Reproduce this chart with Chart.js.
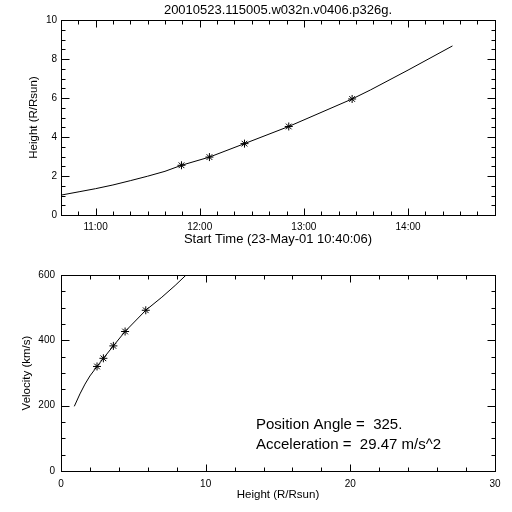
<!DOCTYPE html>
<html>
<head>
<meta charset="utf-8">
<script src="https://cdn.jsdelivr.net/npm/chart.js@4"></script>
<style>
  body { margin: 0; background: #fff; }
  #wrap { position: relative; width: 512px; height: 512px; }
  canvas { position: absolute; left: 0; }
  #topChart { top: 0; }
  #bottomChart { top: 250px; }
</style>
</head>
<body>
<div id="wrap">
  <canvas id="topChart" width="512" height="250"></canvas>
  <canvas id="bottomChart" width="512" height="262"></canvas>
</div>
<script>
const chartTitle = '20010523.115005.w032n.v0406.p326g.';

// height vs time, time in minutes after 00:00
const fitTimes   = [640.1, 651, 660, 670, 680, 690, 700, 709.5, 725.6, 745.8, 771.3, 807.8, 818.3, 840, 865.6];
const fitHeights = [1.02, 1.2, 1.35, 1.54, 1.76, 1.99, 2.24, 2.55, 2.97, 3.66, 4.54, 5.95, 6.41, 7.43, 8.67];
const obsTimes   = [709.5, 725.6, 745.8, 771.3, 807.8];
const obsHeights = [2.55, 2.97, 3.66, 4.54, 5.95];

const timeTickValues = [660, 720, 780, 840];
const timeTickLabels = ['11:00', '12:00', '13:00', '14:00'];
const heightTickValues = [0, 2, 4, 6, 8, 10];

// velocity vs height
const curveHeights    = [0.92, 1.31, 1.66, 2.0, 2.49, 2.93, 3.62, 4.43, 5.86, 6.97, 7.89, 8.65];
const curveVelocities = [198, 236, 266, 291, 320, 345, 383, 427, 492, 532, 568, 600];
const obsVelHeights   = [2.49, 2.93, 3.62, 4.43, 5.86];
const obsVelocities   = [320, 345, 383, 427, 492];

const rTickValues = [0, 10, 20, 30];
const vTickValues = [0, 200, 400, 600];

const noteLines = ['Position Angle =  325.', 'Acceleration =  29.47 m/s^2'];

const FONT = "'Liberation Sans', Arial, sans-serif";

function xy(xs, ys) {
  return xs.map((x, i) => ({ x: x, y: ys[i] }));
}

// IDL-like frame with inward ticks on all four sides
const idlFrame = {
  id: 'idlFrame',
  afterDatasetsDraw(chart, args, opts) {
    const { ctx, chartArea: a } = chart;
    const xs = chart.scales.x, ys = chart.scales.y;
    const L = Math.round(a.left) + 0.5, R = Math.round(a.right) + 0.5;
    const T = Math.round(a.top) + 0.5, B = Math.round(a.bottom) + 0.5;
    ctx.save();
    ctx.strokeStyle = '#000';
    ctx.lineWidth = 1;
    ctx.strokeRect(L, T, R - L, B - T);
    ctx.beginPath();
    const xMajor = xs.ticks.map(t => t.value);
    const yMajor = ys.ticks.map(t => t.value);
    for (let v = Math.ceil(xs.min / opts.xMinor) * opts.xMinor; v <= xs.max; v += opts.xMinor) {
      const len = xMajor.some(m => Math.abs(m - v) < 1e-6) ? 7 : 4;
      const p = Math.round(xs.getPixelForValue(v)) + 0.5;
      ctx.moveTo(p, B); ctx.lineTo(p, B - len);
      ctx.moveTo(p, T); ctx.lineTo(p, T + len);
    }
    for (let v = Math.ceil(ys.min / opts.yMinor) * opts.yMinor; v <= ys.max + 1e-6; v += opts.yMinor) {
      const len = yMajor.some(m => Math.abs(m - v) < 1e-6) ? 8 : 4;
      const p = Math.round(ys.getPixelForValue(v)) + 0.5;
      ctx.moveTo(L, p); ctx.lineTo(L + len, p);
      ctx.moveTo(R, p); ctx.lineTo(R - len, p);
    }
    ctx.stroke();
    if (opts.notes) {
      ctx.fillStyle = '#000';
      ctx.font = '15px ' + FONT;
      ctx.textBaseline = 'middle';
      opts.notes.forEach((line, i) => {
        ctx.fillText(line, a.left + 195, a.top + 150 + i * 20);
      });
    }
    ctx.restore();
  }
};

function axis(opts) {
  return Object.assign({
    type: 'linear',
    grid: { display: false, drawTicks: false },
    border: { display: false }
  }, opts);
}

new Chart(document.getElementById('topChart'), {
  type: 'scatter',
  data: {
    datasets: [{
      data: xy(fitTimes, fitHeights),
      showLine: true,
      borderColor: '#000',
      borderWidth: 1,
      pointRadius: 0,
      tension: 0
    }, {
      data: xy(obsTimes, obsHeights),
      pointStyle: 'star',
      pointRadius: 4,
      borderColor: '#000',
      backgroundColor: '#000',
      borderWidth: 1
    }]
  },
  options: {
    responsive: false,
    animation: false,
    layout: { padding: { left: 0, right: 17, top: 0, bottom: 0 } },
    plugins: {
      legend: { display: false },
      tooltip: { enabled: false },
      title: {
        display: true,
        fullSize: false,
        text: chartTitle,
        color: '#000',
        font: { family: FONT, size: 13, weight: 'normal' },
        padding: { top: 3, bottom: 1.4 }
      },
      idlFrame: { xMinor: 10, yMinor: 0.5 }
    },
    scales: {
      x: axis({
        min: 640.1, max: 890.1,
        afterBuildTicks: s => { s.ticks = timeTickValues.map(v => ({ value: v })); },
        afterFit: s => { s.height = 35; },
        ticks: {
          color: '#000', padding: 6.5, maxRotation: 0,
          font: { family: FONT, size: 10 },
          callback: (v, i) => timeTickLabels[i]
        },
        title: {
          display: true, text: 'Start Time (23-May-01 10:40:06)', color: '#000',
          font: { family: FONT, size: 13 }, padding: { top: 0, bottom: 3 }
        }
      }),
      y: axis({
        min: 0, max: 10,
        afterBuildTicks: s => { s.ticks = heightTickValues.map(v => ({ value: v })); },
        afterFit: s => { s.width = 61; },
        ticks: { color: '#000', padding: 4, font: { family: FONT, size: 10 } },
        title: {
          display: true, text: 'Height (R/Rsun)', color: '#000',
          font: { family: FONT, size: 11.5 }, padding: { top: 27, bottom: 0 }
        }
      })
    }
  },
  plugins: [idlFrame]
});

new Chart(document.getElementById('bottomChart'), {
  type: 'scatter',
  data: {
    datasets: [{
      data: xy(curveHeights, curveVelocities),
      showLine: true,
      borderColor: '#000',
      borderWidth: 1,
      pointRadius: 0,
      tension: 0
    }, {
      data: xy(obsVelHeights, obsVelocities),
      pointStyle: 'star',
      pointRadius: 4,
      borderColor: '#000',
      backgroundColor: '#000',
      borderWidth: 1
    }]
  },
  options: {
    responsive: false,
    animation: false,
    layout: { padding: { left: 0, right: 17, top: 25, bottom: 0 } },
    plugins: {
      legend: { display: false },
      tooltip: { enabled: false },
      idlFrame: { xMinor: 2, yMinor: 50, notes: noteLines }
    },
    scales: {
      x: axis({
        min: 0, max: 30,
        afterBuildTicks: s => { s.ticks = rTickValues.map(v => ({ value: v })); },
        afterFit: s => { s.height = 41; },
        ticks: { color: '#000', padding: 7, maxRotation: 0, font: { family: FONT, size: 10 } },
        title: {
          display: true, text: 'Height (R/Rsun)', color: '#000',
          font: { family: FONT, size: 11.5 }, padding: { top: 0, bottom: 10.4 }
        }
      }),
      y: axis({
        min: 0, max: 600,
        afterBuildTicks: s => { s.ticks = vTickValues.map(v => ({ value: v })); },
        afterFit: s => { s.width = 61; },
        ticks: { color: '#000', padding: 6, font: { family: FONT, size: 10 } },
        title: {
          display: true, text: 'Velocity (km/s)', color: '#000',
          font: { family: FONT, size: 11.5 }, padding: { top: 20, bottom: 0 }
        }
      })
    }
  },
  plugins: [idlFrame]
});
</script>
</body>
</html>
